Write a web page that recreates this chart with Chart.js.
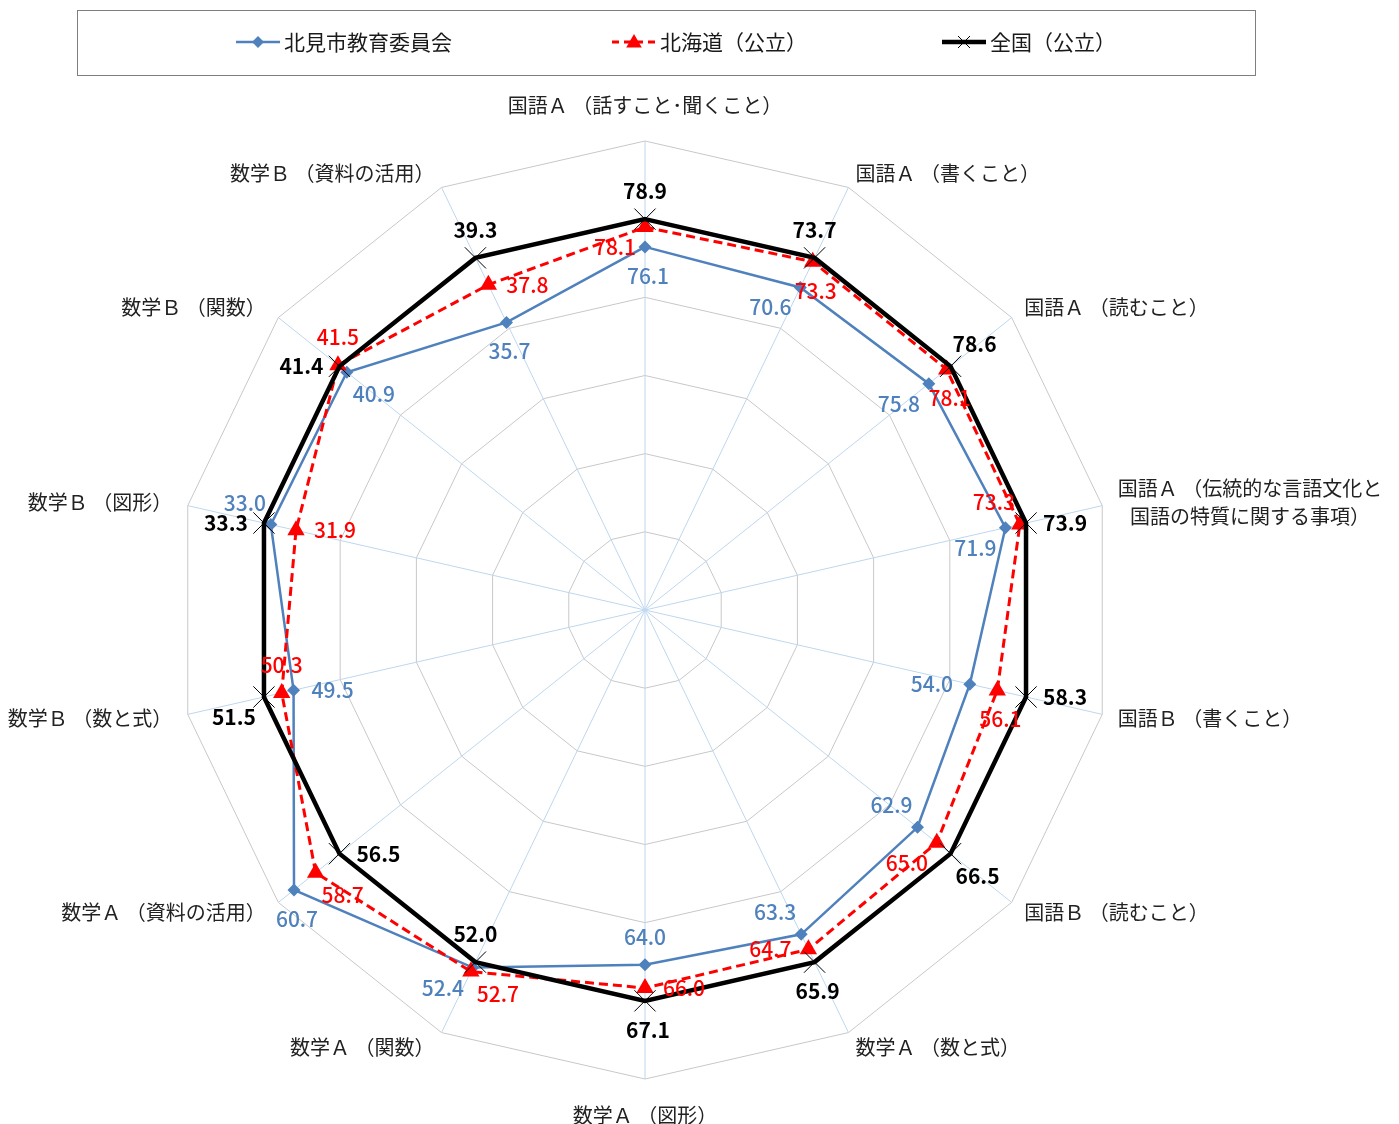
<!DOCTYPE html>
<html lang="ja">
<head>
<meta charset="utf-8">
<title>北見市 学力調査 レーダーチャート</title>
<script src="https://cdn.jsdelivr.net/npm/chart.js@4.4.1/dist/chart.umd.min.js"></script>
<style>
  html, body { margin: 0; padding: 0; background: #fff; }
  #wrap { width: 1399px; height: 1124px; }
</style>
</head>
<body>
<div id="wrap"><canvas id="radarChart" width="1399" height="1124"></canvas></div>
<script>
// 設問区分（上から時計回り）
const categories = [
  ['国語Ａ （話すこと･聞くこと）'],
  ['国語Ａ （書くこと）'],
  ['国語Ａ （読むこと）'],
  ['国語Ａ （伝統的な言語文化と', '国語の特質に関する事項）'],
  ['国語Ｂ （書くこと）'],
  ['国語Ｂ （読むこと）'],
  ['数学Ａ （数と式）'],
  ['数学Ａ （図形）'],
  ['数学Ａ （関数）'],
  ['数学Ａ （資料の活用）'],
  ['数学Ｂ （数と式）'],
  ['数学Ｂ （図形）'],
  ['数学Ｂ （関数）'],
  ['数学Ｂ （資料の活用）']
];

// 平均正答率
const kitami   = [76.1, 70.6, 75.8, 71.9, 54.0, 62.9, 63.3, 64.0, 52.4, 60.7, 49.5, 33.0, 40.9, 35.7];
const hokkaido = [78.1, 73.3, 78.1, 73.3, 56.1, 65.0, 64.7, 66.0, 52.7, 58.7, 50.3, 31.9, 41.5, 37.8];
const national = [78.9, 73.7, 78.6, 73.9, 58.3, 66.5, 65.9, 67.1, 52.0, 56.5, 51.5, 33.3, 41.4, 39.3];

// where each value label sits next to its point
const kitamiLabelPos   = ['s', 'sw', 'sw', 'sw', 'w', 'nw', 'nw', 'n', 'sw', 's', 'e', 'nw', 'se', 's'];
const hokkaidoLabelPos = ['sw', 's', 's', 'nw', 's', 'sw', 'w', 'e', 'se', 'se', 'n', 'e', 'n', 'e'];
const nationalLabelPos = ['n', 'n', 'ne', 'e', 'e', 'se', 's', 's', 'n', 'e', 'sw', 'w', 'w', 'n'];

// plotted as ratio to national average (全国 = 100)
const toRatio = arr => arr.map((v, i) => v / national[i] * 100);

const FONT = '"Noto Sans CJK JP", "Noto Sans", sans-serif';

const labelOffsets = {
  n: [0, -28], s: [3, 29], e: [39, 0], w: [-38, 0],
  ne: [24, -22], nw: [-26, -22], se: [27, 22], sw: [-30, 20]
};

// value labels (like excel data labels)
const valueLabels = {
  id: 'valueLabels',
  afterDatasetsDraw(chart) {
    const ctx = chart.ctx;
    chart.data.datasets.forEach((ds, i) => {
      const meta = chart.getDatasetMeta(i);
      ctx.save();
      ctx.font = (ds.labelBold ? 'bold ' : '500 ') + '21px ' + FONT;
      ctx.fillStyle = ds.labelColor;
      ctx.textAlign = 'center';
      ctx.textBaseline = 'middle';
      meta.data.forEach((pt, j) => {
        const off = labelOffsets[ds.labelPos[j]];
        ctx.fillText(ds.rawValues[j].toFixed(1), pt.x + off[0], pt.y + off[1]);
      });
      ctx.restore();
    });
  }
};

// category labels around the web
const axisLabels = {
  id: 'axisLabels',
  afterDraw(chart) {
    const ctx = chart.ctx;
    const scale = chart.scales.r;
    const R = scale.drawingArea;
    const lineH = 28;
    ctx.save();
    ctx.font = '20px ' + FONT;
    ctx.fillStyle = '#222';
    ctx.textAlign = 'center';
    ctx.textBaseline = 'middle';
    categories.forEach((lines, i) => {
      const a = scale.getIndexAngle(i) - Math.PI / 2;
      const cos = Math.cos(a), sin = Math.sin(a);
      const vertical = Math.abs(cos) < 0.05;
      const dist = R + (vertical ? 22 : 16);
      const x = scale.xCenter + cos * dist;
      const y = scale.yCenter + sin * dist;
      const maxW = Math.max(...lines.map(t => ctx.measureText(t).width));
      const blockH = lines.length * lineH;
      let left = vertical ? x - maxW / 2 : (cos > 0 ? x : x - maxW);
      let top = vertical ? (sin < 0 ? y - blockH : y) : y - blockH / 2;
      lines.forEach((t, k) => {
        ctx.fillText(t, left + maxW / 2, top + lineH * k + lineH / 2);
      });
    });
    ctx.restore();
  }
};

function marker(ctx, style, x, y, r) {
  ctx.beginPath();
  if (style === 'diamond') {
    ctx.moveTo(x, y - r); ctx.lineTo(x + r, y); ctx.lineTo(x, y + r); ctx.lineTo(x - r, y);
    ctx.closePath(); ctx.fill();
  } else if (style === 'triangle') {
    ctx.moveTo(x, y - r);
    ctx.lineTo(x + r * 0.866, y + r * 0.5);
    ctx.lineTo(x - r * 0.866, y + r * 0.5);
    ctx.closePath(); ctx.fill();
  } else {
    ctx.moveTo(x - r, y - r); ctx.lineTo(x + r, y + r);
    ctx.moveTo(x + r, y - r); ctx.lineTo(x - r, y + r);
    ctx.stroke();
  }
}

// boxed legend at the top
const boxLegend = {
  id: 'boxLegend',
  afterDraw(chart) {
    const ctx = chart.ctx;
    ctx.save();
    ctx.strokeStyle = '#7f7f7f';
    ctx.lineWidth = 1;
    ctx.strokeRect(77.5, 10.5, 1178, 65);

    const items = [
      { x: 236, text: '北見市教育委員会', color: '#4f81bd', width: 2.5, dash: [], mark: 'diamond', r: 6 },
      { x: 612, text: '北海道（公立）', color: '#ff0000', width: 3, dash: [7, 5], mark: 'triangle', r: 9 },
      { x: 942, text: '全国（公立）', color: '#000000', width: 4.5, dash: [], mark: 'x', r: 6 }
    ];
    const y = 42;
    items.forEach(it => {
      ctx.strokeStyle = it.color;
      ctx.fillStyle = it.color;
      ctx.lineWidth = it.width;
      ctx.setLineDash(it.dash);
      ctx.beginPath();
      ctx.moveTo(it.x, y); ctx.lineTo(it.x + 44, y);
      ctx.stroke();
      ctx.setLineDash([]);
      ctx.lineWidth = 1;
      marker(ctx, it.mark, it.x + 22, y + (it.mark === 'triangle' ? 1 : 0), it.r);
      ctx.fillStyle = '#1a1a1a';
      ctx.font = '21px ' + FONT;
      ctx.textAlign = 'left';
      ctx.textBaseline = 'middle';
      ctx.fillText(it.text, it.x + 48, y);
    });
    ctx.restore();
  }
};

const ctx = document.getElementById('radarChart').getContext('2d');

new Chart(ctx, {
  type: 'radar',
  data: {
    labels: categories,
    datasets: [
      {
        label: '全国（公立）',
        data: toRatio(national),
        rawValues: national,
        labelPos: nationalLabelPos,
        labelColor: '#000000',
        labelBold: true,
        borderColor: '#000000',
        borderWidth: 4.5,
        fill: false,
        pointStyle: 'crossRot',
        pointRadius: 15,
        pointBorderWidth: 1,
        pointBorderColor: '#000000',
        pointBackgroundColor: '#000000',
        order: 0
      },
      {
        label: '北海道（公立）',
        data: toRatio(hokkaido),
        rawValues: hokkaido,
        labelPos: hokkaidoLabelPos,
        labelColor: '#ff0000',
        labelBold: false,
        borderColor: '#ff0000',
        borderWidth: 3,
        borderDash: [9, 5],
        fill: false,
        pointStyle: 'triangle',
        pointRadius: 10,
        pointBorderWidth: 0,
        pointBackgroundColor: '#ff0000',
        order: 1
      },
      {
        label: '北見市教育委員会',
        data: toRatio(kitami),
        rawValues: kitami,
        labelPos: kitamiLabelPos,
        labelColor: '#4f81bd',
        labelBold: false,
        borderColor: '#4f81bd',
        borderWidth: 2.5,
        fill: false,
        pointStyle: 'rectRot',
        pointRadius: 6.5,
        pointBorderWidth: 0,
        pointBackgroundColor: '#4f81bd',
        order: 2
      }
    ]
  },
  options: {
    responsive: false,
    animation: false,
    layout: { padding: 0 },
    plugins: {
      legend: { display: false },
      tooltip: { enabled: false }
    },
    elements: { line: { tension: 0 } },
    scales: {
      r: {
        min: 50,
        max: 110,
        ticks: { display: false, stepSize: 10 },
        grid: { color: '#c8c8c8', lineWidth: 1 },
        angleLines: { color: '#bdd7ee', lineWidth: 1 },
        pointLabels: { display: false },
        // pin the web where the original sits
        afterFit: function (scale) {
          scale.xCenter = 645;
          scale.yCenter = 610;
          scale.drawingArea = 469;
        }
      }
    }
  },
  plugins: [valueLabels, axisLabels, boxLegend]
});
</script>
</body>
</html>
